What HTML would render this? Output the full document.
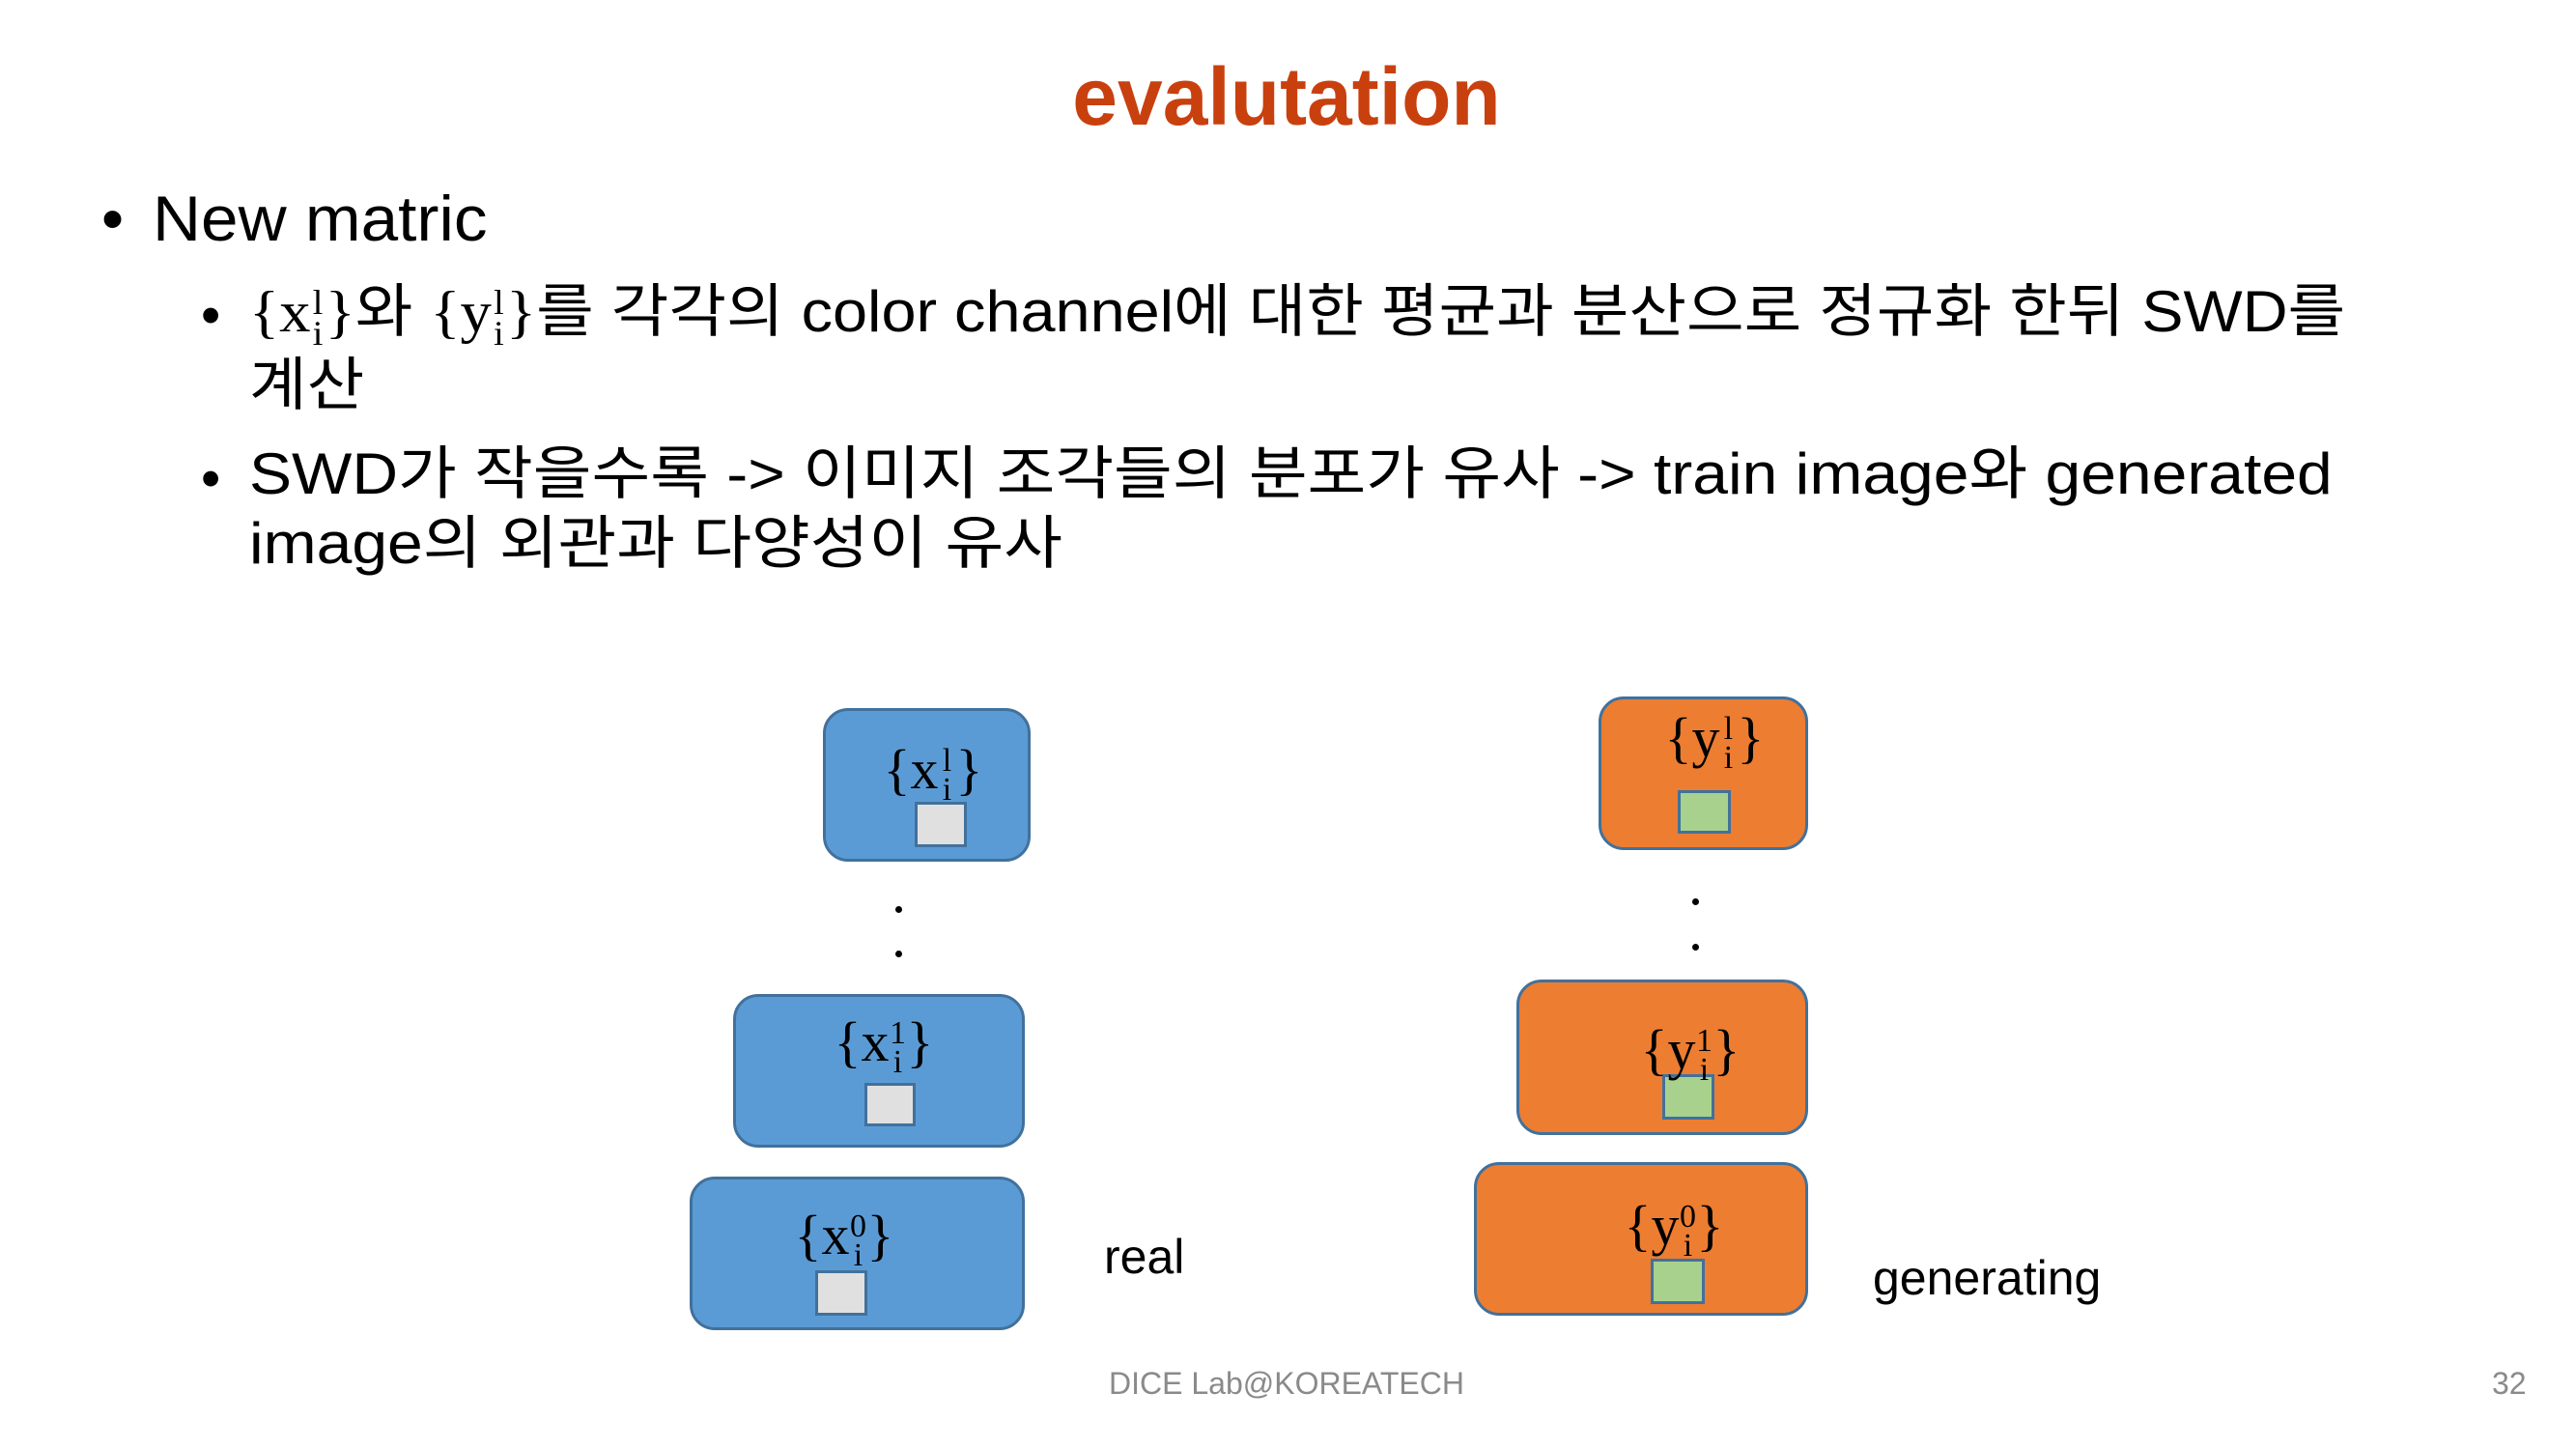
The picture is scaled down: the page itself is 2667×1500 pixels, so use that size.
<!DOCTYPE html>
<html><head><meta charset="utf-8"><style>
body{margin:0;width:2667px;height:1500px;background:#fff;position:relative;overflow:hidden;font-family:"Liberation Sans","Noto Sans CJK KR",sans-serif;color:#000}
.a{position:absolute;white-space:nowrap}
.box{position:absolute;border:3px solid #41719c;border-radius:26px;box-sizing:border-box}
.bl{background:#5b9bd5}.or{background:#ed7d31}
.sq{position:absolute;border:3px solid #41719c;box-sizing:border-box}
.g{background:#e0e0e0}.gr{background:#a9d18e}
.m{position:absolute;font-family:"Liberation Serif",serif;font-size:58px;line-height:1;transform:translateX(-50%);white-space:nowrap}
.st{display:inline-block;font-size:34px;line-height:30px;vertical-align:middle;text-align:center;width:18px}
.ms{font-family:"Liberation Serif",serif}
.ms .st{font-size:36px;line-height:32px;width:14px}
.dot{position:absolute;width:7px;height:7px;border-radius:50%;background:#000}
</style></head><body>
<div class="a" style="left:0;width:2664px;text-align:center;top:52px;font-size:84px;font-weight:bold;color:#c9400f">evalutation</div>
<div class="a" style="left:105px;top:188px;font-size:66px">•</div>
<div class="a" style="left:158px;top:188px;font-size:66px;transform:scaleX(1.05);transform-origin:left">New matric</div>
<div class="a" style="left:208px;top:293px;font-size:58px">•</div>
<div class="a" style="left:258px;top:285px;font-size:60px;line-height:75px;transform:scaleX(1.08);transform-origin:left"><span class="ms">{x<span class="st">l<br>i</span>}</span>와 <span class="ms">{y<span class="st">l<br>i</span>}</span>를 각각의 color channel에 대한 평균과 분산으로 정규화 한뒤 SWD를<br>계산</div>
<div class="a" style="left:208px;top:462px;font-size:58px">•</div>
<div class="a" style="left:258px;top:455px;font-size:60px;line-height:72px;transform:scaleX(1.1);transform-origin:left">SWD가 작을수록 -&gt; 이미지 조각들의 분포가 유사 -&gt; train image와 generated<br>image의 외관과 다양성이 유사</div>

<div class="box bl" style="left:852px;top:733px;width:215px;height:159px"></div>
<div class="sq g" style="left:947px;top:830px;width:54px;height:47px"></div>
<div class="m" style="left:966px;top:768px">{x<span class="st">l<br>i</span>}</div>

<div class="box bl" style="left:759px;top:1029px;width:302px;height:159px"></div>
<div class="sq g" style="left:895px;top:1121px;width:53px;height:45px"></div>
<div class="m" style="left:915px;top:1050px">{x<span class="st">1<br>i</span>}</div>

<div class="box bl" style="left:714px;top:1218px;width:347px;height:159px"></div>
<div class="sq g" style="left:844px;top:1315px;width:54px;height:47px"></div>
<div class="m" style="left:874px;top:1250px">{x<span class="st">0<br>i</span>}</div>

<div class="box or" style="left:1655px;top:721px;width:217px;height:159px"></div>
<div class="sq gr" style="left:1737px;top:818px;width:55px;height:45px"></div>
<div class="m" style="left:1775px;top:735px">{y<span class="st">l<br>i</span>}</div>

<div class="box or" style="left:1570px;top:1014px;width:302px;height:161px"></div>
<div class="sq gr" style="left:1721px;top:1112px;width:54px;height:47px"></div>
<div class="m" style="left:1750px;top:1058px">{y<span class="st">1<br>i</span>}</div>

<div class="box or" style="left:1526px;top:1203px;width:346px;height:159px"></div>
<div class="sq gr" style="left:1709px;top:1303px;width:56px;height:47px"></div>
<div class="m" style="left:1733px;top:1240px">{y<span class="st">0<br>i</span>}</div>

<div class="dot" style="left:927px;top:938px"></div>
<div class="dot" style="left:927px;top:984px"></div>
<div class="dot" style="left:1752px;top:930px"></div>
<div class="dot" style="left:1752px;top:977px"></div>

<div class="a" style="left:1143px;top:1272px;font-size:50px">real</div>
<div class="a" style="left:1939px;top:1294px;font-size:50px">generating</div>
<div class="a" style="left:0;width:2664px;text-align:center;top:1414px;font-size:32px;color:#8a8a8a">DICE Lab@KOREATECH</div>
<div class="a" style="left:2580px;top:1414px;font-size:32px;color:#8a8a8a">32</div>
</body></html>
